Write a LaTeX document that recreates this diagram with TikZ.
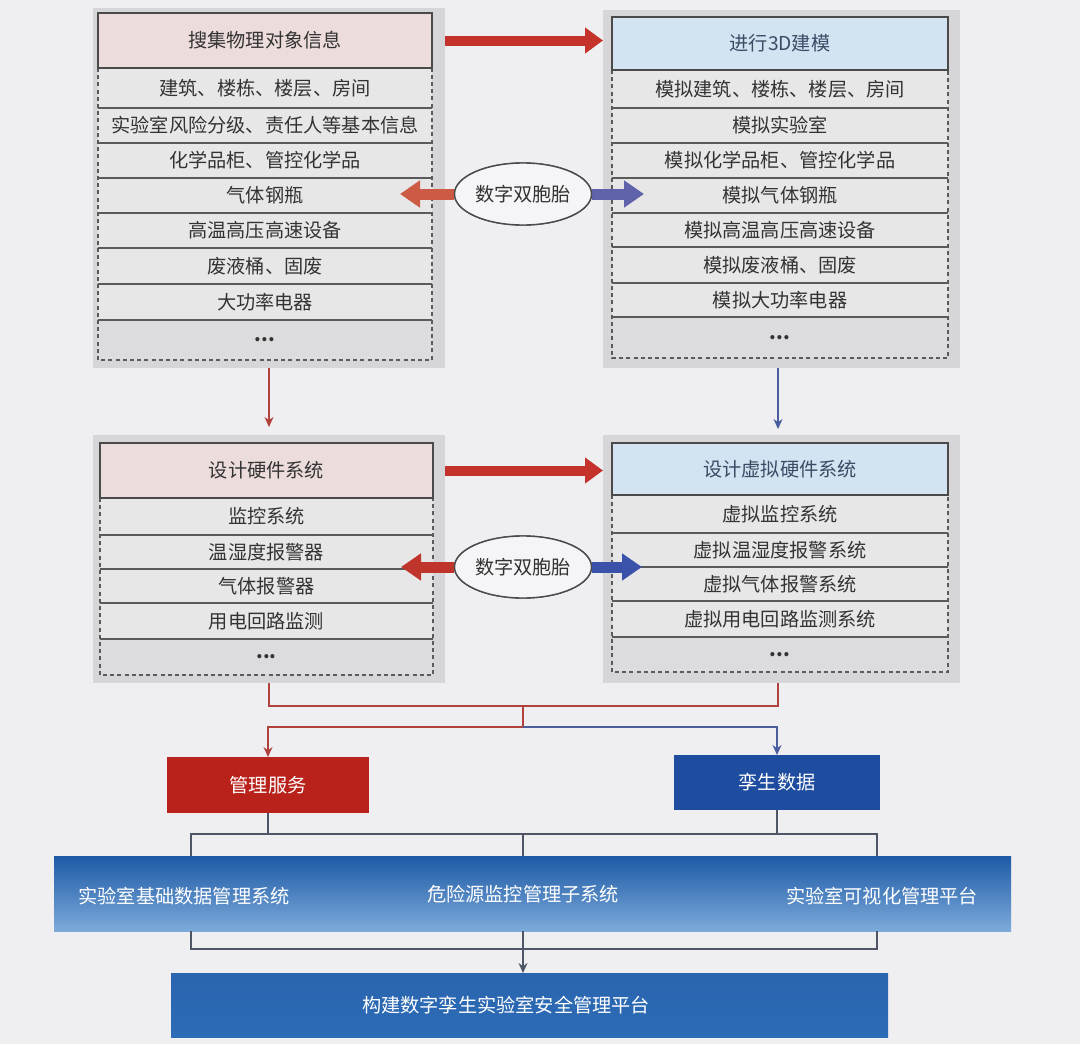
\documentclass[tikz,border=0pt]{standalone}
\usepackage{fontspec}
\setmainfont{Noto Sans CJK SC}
\usetikzlibrary{arrows.meta,shapes.geometric,calc}
\definecolor{bgc}{HTML}{EFEFF1}
\definecolor{panelc}{HTML}{D6D6D8}
\definecolor{rowc}{HTML}{E7E7E8}
\definecolor{rowlastc}{HTML}{DCDCDE}
\definecolor{pinkc}{HTML}{ECDCDB}
\definecolor{lbluec}{HTML}{D3E3F1}
\definecolor{txtc}{HTML}{333333}
\definecolor{htxtc}{HTML}{3D4A66}
\definecolor{edgec}{HTML}{4A4A4A}
\definecolor{sepc}{HTML}{5A5A5A}
\definecolor{bigredc}{HTML}{C5322B}
\definecolor{ellredc}{HTML}{CC5A44}
\definecolor{ellredb}{HTML}{C0352B}
\definecolor{ellbluec}{HTML}{6063AA}
\definecolor{ellblueb}{HTML}{3A52AA}
\definecolor{thinredc}{HTML}{B0413C}
\definecolor{thinbluec}{HTML}{4A5D9E}
\definecolor{grayln}{HTML}{4E5566}
\definecolor{mgmtc}{HTML}{B9211B}
\definecolor{twinc}{HTML}{1E4D9F}
\definecolor{bandtop}{HTML}{1D5AA6}
\definecolor{bandmid}{HTML}{3271BC}
\definecolor{bandbot}{HTML}{7DAADA}
\definecolor{fintop}{HTML}{2A65AF}
\definecolor{finmid}{HTML}{1F5AA6}
\definecolor{finbot}{HTML}{2C6BB6}
\newcommand{\bx}[7]{\node[#6, minimum width={(#4-#2)*0.5pt}, minimum height={(#5-#3)*0.5pt}] (#1) at ({(#2+#4)/2},{(#3+#5)/2}) {#7};}
\begin{document}
\begin{tikzpicture}[x=0.5pt,y=-0.5pt,
  font=\fontsize{9.6}{11}\selectfont,
  panel/.style={fill=panelc, inner sep=0pt, outer sep=0pt},
  headpink/.style={draw=edgec, line width=0.8pt, fill=pinkc, inner sep=0pt, outer sep=0pt, text=txtc},
  headblue/.style={draw=edgec, line width=0.8pt, fill=lbluec, inner sep=0pt, outer sep=0pt, text=htxtc},
  rowbox/.style={fill=rowc, inner sep=0pt, outer sep=0pt, text=txtc},
  rowlast/.style={fill=rowlastc, inner sep=0pt, outer sep=0pt, text=txtc, font=\fontsize{9.6}{11}\selectfont\bfseries},
  sepline/.style={draw=sepc, line width=0.7pt},
  dashbox/.style={draw=sepc, line width=0.7pt, dash pattern=on 2pt off 1.6pt},
  bigarrow/.style={line width=5pt, -{Triangle[length=9pt,width=12.5pt]}},
  ellarrow/.style={line width=5.5pt, -{Triangle[length=10pt,width=13pt]}},
  twin/.style={ellipse, draw=edgec, line width=0.7pt, fill=bgc!60!white, minimum width=68.5pt, minimum height=31pt, inner sep=0pt, text=txtc},
  thinarrow/.style={line width=0.6pt, -{Stealth[length=5pt,width=4.5pt]}},
  thinline/.style={line width=0.6pt},
  solidbox/.style={inner sep=0pt, outer sep=0pt, text=white}
]
\useasboundingbox (0,0) rectangle (1080,1044);
\fill[bgc] (0,0) rectangle (1080,1044);

% ---------- panels ----------
\bx{pTL}{93}{8}{445}{368}{panel}{}
\bx{pTR}{603}{10}{960}{368}{panel}{}
\bx{pML}{93}{435}{445}{683}{panel}{}
\bx{pMR}{603}{435}{960}{683}{panel}{}
\coordinate (xr) at (778,0);

% ---------- top-left ----------
\foreach \a/\b/\t [count=\i] in {68/108/{建筑、楼栋、楼层、房间},108/143/{实验室风险分级、责任人等基本信息},143/178/{化学品柜、管控化学品},178/213/{气体钢瓶},213/248/{高温高压高速设备},248/284/{废液桶、固废},284/320/{大功率电器}}
  {\bx{rTL\i}{98}{\a}{432}{\b}{rowbox}{\t}}
\bx{rTL8}{98}{320}{432}{360}{rowlast}{...}
\foreach \i in {1,...,7} \draw[sepline] (rTL\i.south west) -- (rTL\i.south east);
\draw[dashbox] (rTL1.north west) rectangle (rTL8.south east);
\bx{hTL}{98}{13}{432}{68}{headpink}{搜集物理对象信息}

% ---------- top-right ----------
\foreach \a/\b/\t [count=\i] in {70/108/{模拟建筑、楼栋、楼层、房间},108/143/{模拟实验室},143/178/{模拟化学品柜、管控化学品},178/213/{模拟气体钢瓶},213/247/{模拟高温高压高速设备},247/283/{模拟废液桶、固废},283/317/{模拟大功率电器}}
  {\bx{rTR\i}{612}{\a}{948}{\b}{rowbox}{\t}}
\bx{rTR8}{612}{317}{948}{358}{rowlast}{...}
\foreach \i in {1,...,7} \draw[sepline] (rTR\i.south west) -- (rTR\i.south east);
\draw[dashbox] (rTR1.north west) rectangle (rTR8.south east);
\bx{hTR}{612}{17}{948}{70}{headblue}{进行3D建模}

% ---------- middle-left ----------
\foreach \a/\b/\t [count=\i] in {498/535/{监控系统},535/569/{温湿度报警器},569/603/{气体报警器},603/639/{用电回路监测}}
  {\bx{rML\i}{100}{\a}{433}{\b}{rowbox}{\t}}
\bx{rML5}{100}{639}{433}{675}{rowlast}{...}
\foreach \i in {1,...,4} \draw[sepline] (rML\i.south west) -- (rML\i.south east);
\draw[dashbox] (rML1.north west) rectangle (rML5.south east);
\bx{hML}{100}{443}{433}{498}{headpink}{设计硬件系统}

% ---------- middle-right ----------
\foreach \a/\b/\t [count=\i] in {495/533/{虚拟监控系统},533/567/{虚拟温湿度报警系统},567/601/{虚拟气体报警系统},601/637/{虚拟用电回路监测系统}}
  {\bx{rMR\i}{612}{\a}{948}{\b}{rowbox}{\t}}
\bx{rMR5}{612}{637}{948}{672}{rowlast}{...}
\foreach \i in {1,...,4} \draw[sepline] (rMR\i.south west) -- (rMR\i.south east);
\draw[dashbox] (rMR1.north west) rectangle (rMR5.south east);
\bx{hMR}{612}{443}{948}{495}{headblue}{设计虚拟硬件系统}

% ---------- big red arrows ----------
\draw[bigarrow, draw=bigredc] (hTL.east -| pTL.east) -- (hTL.east -| pTR.west);
\draw[bigarrow, draw=bigredc] (hML.east -| pML.east) -- (hML.east -| pMR.west);

% ---------- twin ellipses ----------
\node[twin] (e1) at (523,194) {数字双胞胎};
\node[twin] (e2) at (523,567) {数字双胞胎};
\coordinate (t1l) at (400,194);
\coordinate (t1r) at (644,194);
\coordinate (t2l) at (401,567);
\coordinate (t2r) at (642,567);
\draw[ellarrow, draw=ellredc] (e1.west) -- (t1l);
\draw[ellarrow, draw=ellbluec] (e1.east) -- (t1r);
\draw[ellarrow, draw=ellredb] (e2.west) -- (t2l);
\draw[ellarrow, draw=ellblueb] (e2.east) -- (t2r);
\node[twin] at (e1) {数字双胞胎};
\node[twin] at (e2) {数字双胞胎};

% ---------- thin down arrows ----------
\draw[thinarrow, draw=thinredc, shorten >=4pt] (pTL.south) -- (pML.north);
\draw[thinarrow, draw=thinbluec, shorten >=3pt] (pTR.south -| xr) -- (pMR.north -| xr);

% ---------- service boxes ----------
\bx{mg}{167}{757}{369}{813}{solidbox, fill=mgmtc}{管理服务}
\bx{tw}{674}{755}{880}{810}{solidbox, fill=twinc}{孪生数据}

% ---------- connectors to service boxes ----------
\coordinate (j1) at (523,706);
\coordinate (j2) at (523,727);
\draw[thinline, draw=thinredc] (pML.south) -- (pML.south |- j1) -- (j1 -| xr) -- (pMR.south -| xr);
\draw[thinline, draw=thinredc] (j1) -- (j2);
\draw[thinarrow, draw=thinredc] (j2) -- (j2 -| mg.north) -- (mg.north);
\draw[thinarrow, draw=thinbluec] (j2) -- (j2 -| tw.north) -- (tw.north);

% ---------- band ----------
\bx{band}{54}{856}{1011}{931}{solidbox, top color=bandtop, middle color=bandmid, bottom color=bandbot}{}
\node[text=white] (b1) at (184,896) {实验室基础数据管理系统};
\node[text=white] (b2) at (523,894) {危险源监控管理子系统};
\node[text=white] (b3) at (882,896) {实验室可视化管理平台};

\coordinate (j3) at (523,834);
\coordinate (hl) at (191,834);
\coordinate (hr) at (877,834);
\draw[thinline, draw=grayln] (mg.south) -- (mg.south |- j3);
\draw[thinline, draw=grayln] (tw.south) -- (tw.south |- j3);
\draw[thinline, draw=grayln] (hl |- band.north) -- (hl) -- (hr) -- (hr |- band.north);
\draw[thinline, draw=grayln] (j3) -- (j3 |- band.north);

% ---------- final ----------
\bx{fin}{171}{973}{888}{1037}{solidbox, top color=fintop, middle color=finmid, bottom color=finbot}{}
\node[text=white] (ft) at (506,1005) {构建数字孪生实验室安全管理平台};
\coordinate (bl) at (191,949);
\coordinate (br) at (877,949);
\draw[thinline, draw=grayln] (bl |- band.south) -- (bl) -- (br) -- (br |- band.south);
\draw[thinarrow, draw=grayln] (j3 |- band.south) -- (j3 |- fin.north);
\end{tikzpicture}
\end{document}
